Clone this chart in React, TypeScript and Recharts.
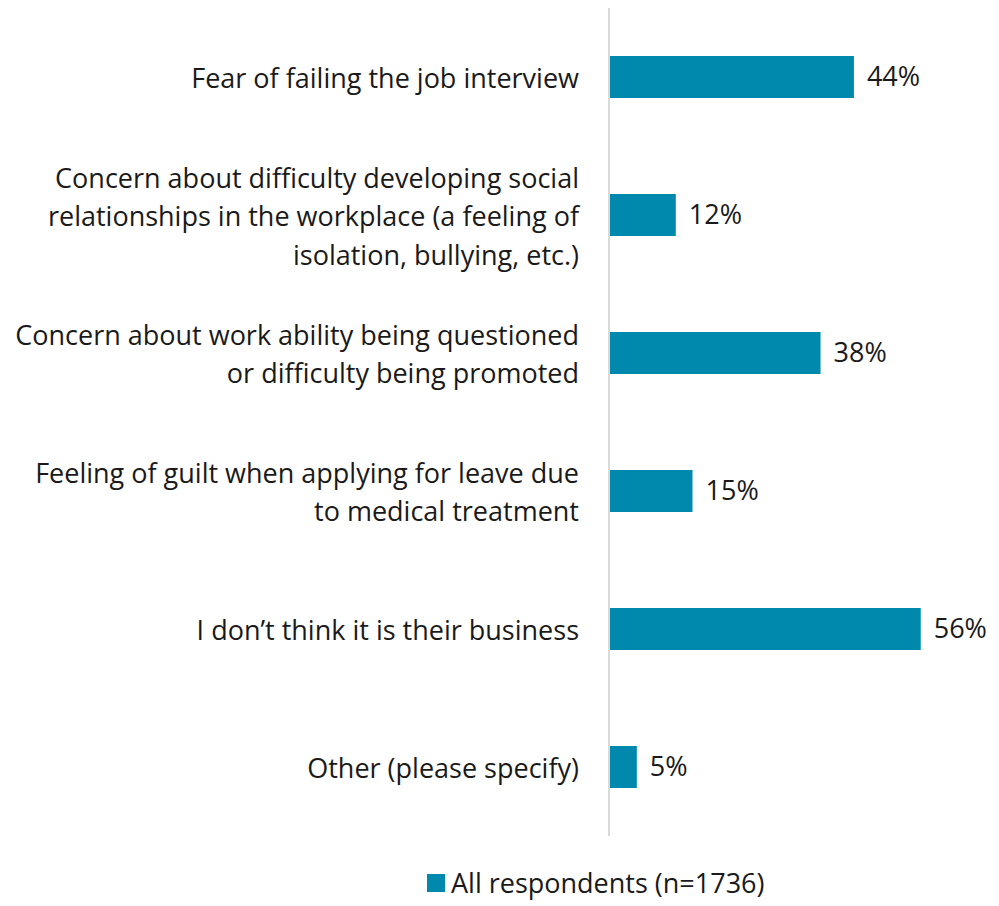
import { BarChart, Bar, XAxis, YAxis, LabelList, Legend } from "recharts";

const categories = [
  "Fear of failing the job interview",
  "Concern about difficulty developing social\nrelationships in the workplace (a feeling of\nisolation, bullying, etc.)",
  "Concern about work ability being questioned\nor difficulty being promoted",
  "Feeling of guilt when applying for leave due\nto medical treatment",
  "I don’t think it is their business",
  "Other (please specify)",
];
const values = [44, 12, 38, 15, 56, 5];
const seriesName = "All respondents (n=1736)";

const BAR_COLOR = "#0089AD";
const FONT = "'Open Sans', sans-serif";
const FONT_SIZE = 27;
const LINE_H = 38.5;

const data = categories.map((name, i) => ({ name, value: values[i] }));

function WrappedTick(props: any) {
  const { x, y, payload } = props;
  const lines = String(payload.value).split("\n");
  const startY = y - ((lines.length - 1) * LINE_H) / 2;
  return (
    <text
      x={x - 22}
      y={startY}
      textAnchor="end"
      fontFamily={FONT}
      fontSize={FONT_SIZE}
      fill="#1a1a1a"
      dominantBaseline="central">
      {lines.map((line, i) => (
        <tspan key={i} x={x - 22} y={startY + i * LINE_H}>
          {line}
        </tspan>
      ))}
    </text>
  );
}

function LegendContent() {
  return (
    <div
      style={{
        display: "flex",
        alignItems: "center",
        fontFamily: FONT,
        fontSize: FONT_SIZE,
        color: "#1a1a1a",
      }}>
      <span
        style={{
          display: "inline-block",
          width: 18,
          height: 18,
          background: BAR_COLOR,
          marginRight: 6,
        }}
      />
      <span>{seriesName}</span>
    </div>
  );
}

export default function App() {
  return (
    <div style={{ position: "absolute", left: 0, top: 0, background: "#fff" }}>
      <BarChart
        width={999}
        height={906}
        data={data}
        layout="vertical"
        barCategoryGap="34.7%"
        margin={{ top: 8, right: 56, left: 0, bottom: 30 }}>
        <XAxis type="number" domain={[0, 60]} hide />
        <YAxis
          type="category"
          dataKey="name"
          width={609}
          tickLine={false}
          axisLine={{ stroke: "#d9d9d9", strokeWidth: 2 }}
          tick={<WrappedTick />}
          interval={0}
        />
        <Legend
          verticalAlign="bottom"
          height={40}
          content={<LegendContent />}
          wrapperStyle={{ left: 427, bottom: 2, width: "auto" }}
        />
        <Bar
          dataKey="value"
          name={seriesName}
          fill={BAR_COLOR}
          isAnimationActive={false}>
          <LabelList
            dataKey="value"
            position="right"
            offset={13}
            formatter={(v: any) => `${v}%`}
            style={{ fontFamily: FONT, fontSize: FONT_SIZE, fill: "#1a1a1a" }}
          />
        </Bar>
      </BarChart>
    </div>
  );
}
